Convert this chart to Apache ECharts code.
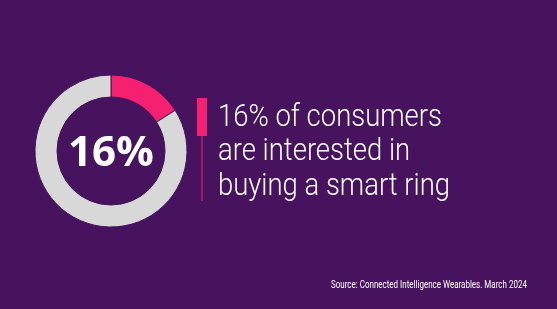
<!DOCTYPE html>
<html><head><meta charset="utf-8">
<script src="https://cdn.jsdelivr.net/npm/echarts@6/dist/echarts.min.js"></script>
<style>html,body{margin:0;padding:0;background:#48135e;}#c{width:557px;height:309px;}</style>
</head><body><div id="c"></div>
<script>
const categories = ['Interested', 'Not interested'];
const values = [16, 84];
const headlineLines = ['16% of consumers', 'are interested in', 'buying a smart ring'];
const sourceText = 'Source: Connected Intelligence Wearables. March 2024';

const bg = '#48135e';
const chart = echarts.init(document.getElementById('c'), null, {renderer: 'canvas'});
chart.setOption({
  backgroundColor: bg,
  animation: false,
  series: [{
    type: 'pie',
    center: [111, 151],
    radius: [54, 76],
    startAngle: 90,
    clockwise: true,
    label: {show: false},
    labelLine: {show: false},
    emphasis: {disabled: true},
    itemStyle: {borderColor: bg, borderWidth: 1},
    data: categories.map((c, i) => ({name: c, value: values[i], itemStyle: {color: i === 0 ? '#f5206f' : '#d8d8d8'}}))
  }],
  graphic: [
    {type: 'text', x: 111, y: 154, style: {text: values[0] + '%', align: 'center', verticalAlign: 'middle', fill: '#fff', font: 'bold 42px "Open Sans"'}},
    {type: 'rect', shape: {x: 197, y: 98, width: 10, height: 38}, style: {fill: '#f5206f'}},
    {type: 'rect', shape: {x: 201.5, y: 136, width: 1, height: 65}, style: {fill: '#f5206f'}},
    {type: 'text', x: 218, y: 101, scaleX: 0.9, style: {text: headlineLines.join('\n'), fill: '#fff', font: '300 30.5px Roboto', lineHeight: 34.5}},
    {type: 'text', x: 331, y: 280, scaleX: 0.8, style: {text: sourceText, fill: '#fff', font: '10px Roboto'}}
  ]
});
</script></body></html>
